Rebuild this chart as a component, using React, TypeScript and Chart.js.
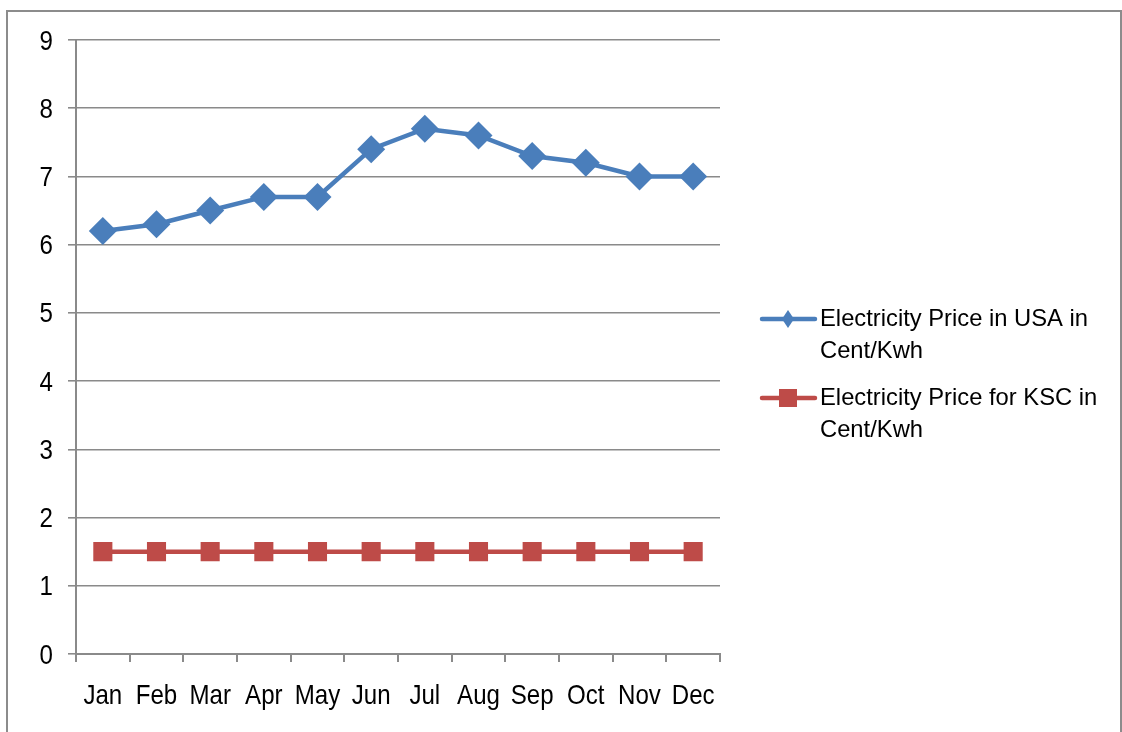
import React, { useEffect, useRef } from "react";
import { Chart, registerables } from "chart.js";

Chart.register(...registerables);

const months = ["Jan", "Feb", "Mar", "Apr", "May", "Jun", "Jul", "Aug", "Sep", "Oct", "Nov", "Dec"];
const usaPrice = [6.2, 6.3, 6.5, 6.7, 6.7, 7.4, 7.7, 7.6, 7.3, 7.2, 7.0, 7.0];
const kscPrice = [1.5, 1.5, 1.5, 1.5, 1.5, 1.5, 1.5, 1.5, 1.5, 1.5, 1.5, 1.5];
const usaLabel = ["Electricity Price in USA in", "Cent/Kwh"];
const kscLabel = ["Electricity Price for KSC in", "Cent/Kwh"];

const BLUE = "#4a7ebb";
const RED = "#be4b48";
const GRID = "#8a8a8a";
const FONT = "'Liberation Sans', Arial, sans-serif";

// draws axis tick labels in a slightly condensed face (as in the reference)
const axisLabelPlugin = {
  id: "condensedTicks",
  afterDraw(chart: any) {
    const ctx = chart.ctx;
    const xs = chart.scales.x;
    const ys = chart.scales.y;
    ctx.save();
    ctx.fillStyle = "#000";
    ctx.font = `28px ${FONT}`;
    ctx.textBaseline = "alphabetic";
    const sx = 0.86;
    xs.ticks.forEach((t: any, i: number) => {
      const x = xs.getPixelForTick(i);
      const label = xs.getLabelForValue(t.value);
      ctx.save();
      ctx.translate(x, xs.top + 50);
      ctx.scale(sx, 1);
      ctx.textAlign = "center";
      ctx.fillText(label, 0, 0);
      ctx.restore();
    });
    ys.ticks.forEach((t: any, i: number) => {
      const y = ys.getPixelForTick(i);
      ctx.save();
      ctx.translate(53, y + 9.5);
      ctx.scale(sx, 1);
      ctx.textAlign = "right";
      ctx.fillText(String(t.label), 0, 0);
      ctx.restore();
    });
    ctx.restore();
  },
};

const legendPlugin = {
  id: "customLegend",
  afterDraw(chart: any) {
    const ctx = chart.ctx;
    const items = [
      { ds: chart.data.datasets[0], y: 319 },
      { ds: chart.data.datasets[1], y: 398 },
    ];
    ctx.save();
    items.forEach(({ ds, y }) => {
      ctx.strokeStyle = ds.borderColor;
      ctx.lineWidth = 4.5;
      ctx.lineCap = "round";
      ctx.beginPath();
      ctx.moveTo(762, y);
      ctx.lineTo(815, y);
      ctx.stroke();
      ctx.fillStyle = ds.pointBackgroundColor;
      ctx.beginPath();
      if (ds.pointStyle === "rectRot") {
        const s = 9;
        ctx.moveTo(788 - 6, y);
        ctx.lineTo(788, y - s);
        ctx.lineTo(788 + 6, y);
        ctx.lineTo(788, y + s);
        ctx.closePath();
      } else {
        ctx.rect(788 - 9, y - 9, 18, 18);
      }
      ctx.fill();
      ctx.fillStyle = "#000";
      ctx.font = `24px ${FONT}`;
      ctx.textBaseline = "middle";
      ctx.textAlign = "left";
      (ds.label as string[]).forEach((line: string, i: number) => {
        ctx.save();
        ctx.translate(820, y + i * 32);
        ctx.scale(0.99, 1);
        ctx.fillText(line, 0, 0);
        ctx.restore();
      });
    });
    ctx.restore();
  },
};

export default function App() {
  const ref = useRef<HTMLCanvasElement | null>(null);
  useEffect(() => {
    if (!ref.current) return;
    const chart = new Chart(ref.current, {
      type: "line",
      data: {
        labels: months,
        datasets: [
          {
            label: usaLabel as any,
            data: usaPrice,
            borderColor: BLUE,
            backgroundColor: BLUE,
            pointBackgroundColor: BLUE,
            pointBorderColor: BLUE,
            pointStyle: "rectRot",
            pointRadius: 14,
            pointBorderWidth: 0,
            borderWidth: 4.5,
            tension: 0,
          },
          {
            label: kscLabel as any,
            data: kscPrice,
            borderColor: RED,
            backgroundColor: RED,
            pointBackgroundColor: RED,
            pointBorderColor: RED,
            pointStyle: "rect",
            pointRadius: 13.5,
            pointBorderWidth: 0,
            borderWidth: 4.5,
            tension: 0,
          },
        ],
      },
      options: {
        animation: false,
        responsive: false,
        layout: { padding: { top: 40, right: 402, left: 0, bottom: 0 } },
        plugins: { legend: { display: false }, tooltip: { enabled: false } },
        scales: {
          x: {
            offset: true,
            grid: {
              offset: true,
              drawOnChartArea: false,
              drawTicks: true,
              tickLength: 8,
              color: GRID,
              lineWidth: 2,
            },
            border: { color: GRID, width: 2 },
            ticks: { display: false, autoSkip: false, maxRotation: 0 },
            afterFit: (scale: any) => {
              scale.height = 78;
            },
          },
          y: {
            min: 0,
            max: 9,
            ticks: { stepSize: 1, display: false },
            grid: { color: GRID, lineWidth: 1.6, tickLength: 8 },
            border: { color: GRID, width: 2 },
            afterFit: (scale: any) => {
              scale.width = 76;
            },
          },
        },
      },
      plugins: [legendPlugin, axisLabelPlugin],
    });
    return () => chart.destroy();
  }, []);

  return (
    <div style={{ position: "absolute", left: 0, top: 0, width: 1122, height: 732, overflow: "hidden", background: "#fff" }}>
      <div
        style={{
          position: "absolute",
          left: 6,
          top: 10,
          width: 1116,
          height: 800,
          boxSizing: "border-box",
          border: "2px solid #8c8c8c",
        }}
      />
      <canvas ref={ref} width={1122} height={732} style={{ position: "absolute", left: 0, top: 0 }} />
    </div>
  );
}
